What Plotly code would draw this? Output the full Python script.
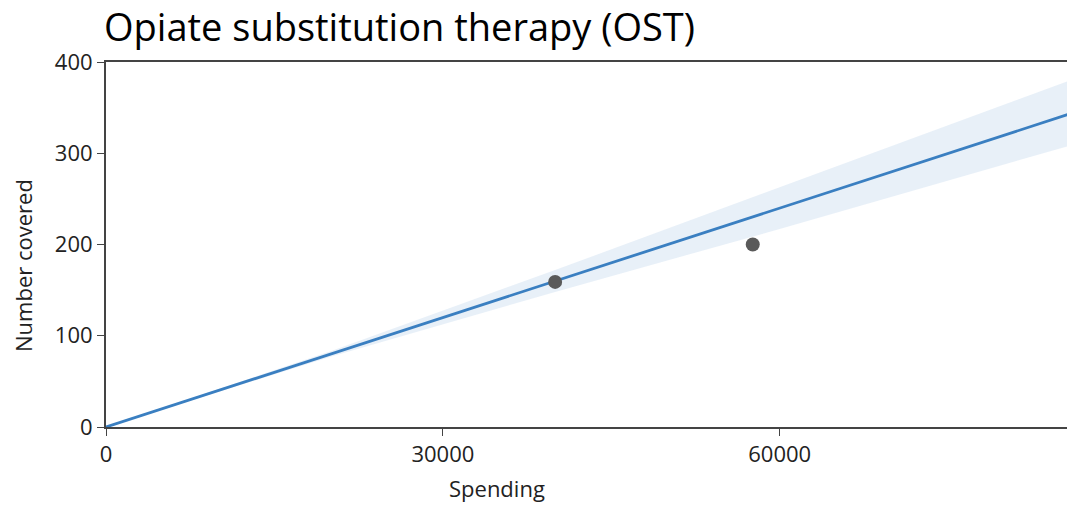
import plotly.graph_objects as go

# observed data points
spending = [40000, 57600]
covered = [159, 200]

# fitted line and its confidence band
fit_x = [0, 20000, 40000, 60000, 86300]
fit_y = [0, 80, 160, 240, 345]
band_lower = [0, 77, 148, 217, 310]
band_upper = [0, 83, 172, 263, 382]

x_ticks = [0, 30000, 60000]
y_ticks = [0, 100, 200, 300, 400]

FONT = 'Open Sans, Noto Sans, sans-serif'

fig = go.Figure()

# confidence band
fig.add_trace(go.Scatter(x=fit_x, y=band_lower, mode='lines', line=dict(width=0),
                         hoverinfo='skip', showlegend=False))
fig.add_trace(go.Scatter(x=fit_x, y=band_upper, mode='lines', line=dict(width=0),
                         fill='tonexty', fillcolor='rgba(213,227,242,0.55)',
                         hoverinfo='skip', showlegend=False))

# fit line
fig.add_trace(go.Scatter(x=fit_x, y=fit_y, mode='lines',
                         line=dict(color='#3a7fc1', width=2.8), showlegend=False))

# data points
fig.add_trace(go.Scatter(x=spending, y=covered, mode='markers',
                         marker=dict(color='#5a5a5a', size=14), showlegend=False))

axis_font = dict(family=FONT, size=22, color='#222')

# the page body adds an 8px offset, so margins are shifted to compensate
fig.update_layout(
    width=1075, height=506,
    margin=dict(l=98, r=8, t=54, b=87, autoexpand=False),
    plot_bgcolor='white', paper_bgcolor='white',
    font=axis_font,
    title=dict(text='Opiate substitution therapy (OST)', xref='container', yref='container',
               x=96 / 1075, xanchor='left', y=1 - 20 / 506, yanchor='middle',
               font=dict(family=FONT, size=38, color='#000')),
    xaxis=dict(range=[0, 86300], tickvals=x_ticks, tickformat='d', ticks='outside', ticklen=7,
               tickcolor='#444', showline=True, linecolor='#444', linewidth=2,
               mirror=True, showgrid=False, zeroline=False, tickfont=axis_font,
               automargin=False),
    yaxis=dict(range=[0, 400], tickvals=y_ticks, tickformat='d', ticks='outside', ticklen=7,
               tickcolor='#444', showline=True, linecolor='#444', linewidth=2,
               showgrid=False, zeroline=False, tickfont=axis_font, automargin=False),
)

fig.add_annotation(text='Spending', xref='paper', yref='paper',
                   x=(489 - 98) / 969, y=(419 - 480) / 365,
                   xanchor='center', yanchor='middle', showarrow=False,
                   font=dict(family=FONT, size=22, color='#222'))
fig.add_annotation(text='Number covered', xref='paper', yref='paper', textangle=-90,
                   x=(15 - 98) / 969, y=(419 - 258) / 365,
                   xanchor='center', yanchor='middle', showarrow=False,
                   font=dict(family=FONT, size=22, color='#222'))

fig.write_html('out.html')
